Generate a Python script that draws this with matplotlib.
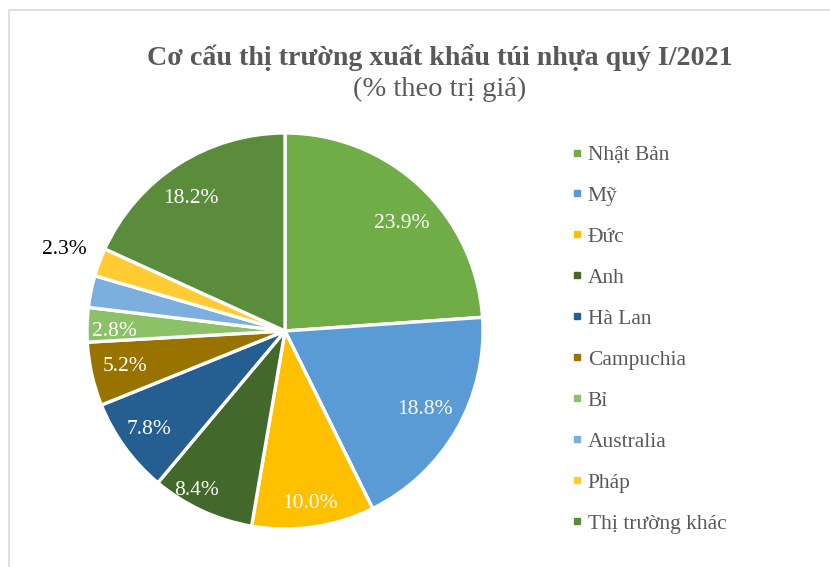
import matplotlib
matplotlib.use("Agg")
import matplotlib.pyplot as plt
from matplotlib.lines import Line2D
from matplotlib.patches import Rectangle
import numpy as np

plt.rcParams['font.family'] = ['Liberation Serif', 'DejaVu Serif']

categories = ["Nhật Bản", "Mỹ", "Đức", "Anh", "Hà Lan", "Campuchia", "Bỉ",
              "Australia", "Pháp", "Thị trường khác"]
values = [23.9, 18.8, 10.0, 8.4, 7.8, 5.2, 2.8, 2.6, 2.3, 18.2]
value_labels = ["23.9%", "18.8%", "10.0%", "8.4%", "7.8%", "5.2%", "2.8%",
                "", "2.3%", "18.2%"]
colors = ["#70AD47", "#5B9BD5", "#FFC000", "#43682B", "#255E91", "#997300",
          "#8CC168", "#7CAFDD", "#FFCD33", "#5B8C3B"]
title = "Cơ cấu thị trường xuất khẩu túi nhựa quý I/2021"
subtitle = "(% theo trị giá)"

W, H = 830, 567
fig = plt.figure(figsize=(W / 100, H / 100), dpi=100)

# chart border
fig.patches.append(Rectangle((9 / W, -0.2), 1.2, 1.2 - 10 / H, transform=fig.transFigure,
                             fill=False, edgecolor="#D9D9D9", linewidth=1.2))

cx, cy, r = 285, 331, 198
ax = fig.add_axes([(cx - r) / W, (H - cy - r) / H, 2 * r / W, 2 * r / H])
wedges, _ = ax.pie(values, colors=colors, startangle=90, counterclock=False,
                   wedgeprops=dict(edgecolor="white", linewidth=2.4))
ax.set_xlim(-1, 1)
ax.set_ylim(-1, 1)
ax.set_aspect("equal")
ax.axis("off")

# label placement: radial fraction of radius and angular nudge (degrees)
label_r = [0.80, 0.81, 0.88, 0.92, 0.85, 0.83, 0.86, 0.8, 1.19, 0.82]
label_da = [-4.3, 0.5, 0, -4.1, 0, 0, 2.0, 0, 0, 2.5]
for w, lab, lr, da in zip(wedges, value_labels, label_r, label_da):
    if not lab:
        continue
    ang = np.deg2rad((w.theta1 + w.theta2) / 2 + da)
    col = "black" if lr > 1 else "white"
    ax.text(lr * np.cos(ang), lr * np.sin(ang), lab, ha="center", va="center",
            fontsize=15.5, color=col)

fig.text(440 / W, 1 - 57 / H, title, ha="center", va="center", fontsize=20.2,
         fontweight="bold", color="#595959")
fig.text(440 / W, 1 - 89 / H, subtitle, ha="center", va="center", fontsize=20.5,
         color="#595959")

handles = [Line2D([], [], marker="s", linestyle="none", markersize=5,
                  markerfacecolor=c, markeredgecolor=c) for c in colors]
leg = fig.legend(handles, categories, loc="upper left",
                 bbox_to_anchor=(571 / W, 1 - 145 / H), frameon=False,
                 fontsize=15.5, labelspacing=0.97, handlelength=0.6,
                 handletextpad=0.18, borderpad=0, borderaxespad=0)
for t in leg.get_texts():
    t.set_color("#595959")

fig.savefig("out.png", dpi=100)
